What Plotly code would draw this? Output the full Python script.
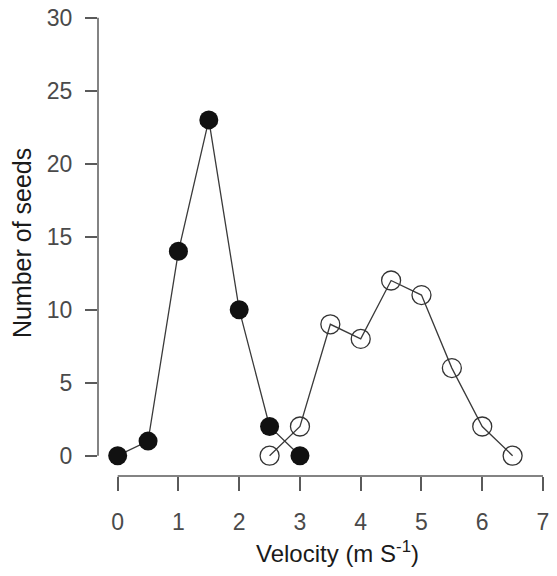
import plotly.graph_objects as go

# Data
x_filled = [0, 0.5, 1, 1.5, 2, 2.5, 3]
y_filled = [0, 1, 14, 23, 10, 2, 0]
x_open = [2.5, 3, 3.5, 4, 4.5, 5, 5.5, 6, 6.5]
y_open = [0, 2, 9, 8, 12, 11, 6, 2, 0]
x_ticks = [0, 1, 2, 3, 4, 5, 6, 7]
y_ticks = [0, 5, 10, 15, 20, 25, 30]

AX = "#5a5a5a"
TICKFONT = dict(family="Liberation Sans, Arial", size=23, color="#4a4a4a")

fig = go.Figure()
fig.add_trace(go.Scatter(
    x=x_filled, y=y_filled, mode="lines+markers",
    line=dict(color="#3a3a3a", width=1.3),
    marker=dict(symbol="circle", size=19, color="#111111", line=dict(width=0)),
    showlegend=False, cliponaxis=False))
fig.add_trace(go.Scatter(
    x=x_open, y=y_open, mode="lines+markers",
    line=dict(color="#3a3a3a", width=1.3),
    marker=dict(symbol="circle-open", size=19, color="#333333", line=dict(width=1.3)),
    showlegend=False, cliponaxis=False))

fig.update_layout(
    width=541, height=560,
    margin=dict(l=90, r=4, t=5, b=92, autoexpand=False),
    paper_bgcolor="white", plot_bgcolor="white",
    xaxis=dict(range=[-0.324, 7.033], tickvals=x_ticks, ticktext=[str(v) for v in x_ticks],
               showgrid=False, zeroline=False, showline=False, automargin=False,
               ticks="outside", ticklen=14, tickwidth=1.5, tickcolor=AX,
               tickfont=TICKFONT, ticklabelstandoff=11, ticklabeloverflow="allow"),
    yaxis=dict(range=[-1.39, 30.32], tickvals=y_ticks, ticktext=[str(v) for v in y_ticks],
               showgrid=False, zeroline=False, showline=False, automargin=False,
               ticks="outside", ticklen=12, tickwidth=1.5, tickcolor=AX,
               tickfont=TICKFONT, ticklabelstandoff=8, ticklabeloverflow="allow"),
    shapes=[
        dict(type="line", xref="paper", yref="y", x0=0, x1=0, y0=min(y_ticks), y1=max(y_ticks),
             line=dict(color=AX, width=1.5)),
        dict(type="line", xref="x", yref="paper", x0=min(x_ticks), x1=max(x_ticks), y0=0, y1=0,
             line=dict(color=AX, width=1.5)),
    ],
    annotations=[
        dict(text="Number of seeds", xref="paper", yref="paper", x=-0.170, y=0.503,
             xanchor="center", yanchor="middle", textangle=-90, showarrow=False,
             font=dict(family="Liberation Sans, Arial", size=25, color="#1a1a1a")),
        dict(text="Velocity (m S<sup>-1</sup>)", xref="paper", y=-0.164, x=0.535, yref="paper",
             xanchor="center", yanchor="middle", showarrow=False,
             font=dict(family="Liberation Sans, Arial", size=24, color="#1a1a1a")),
    ],
)

fig.write_html("out.html")
